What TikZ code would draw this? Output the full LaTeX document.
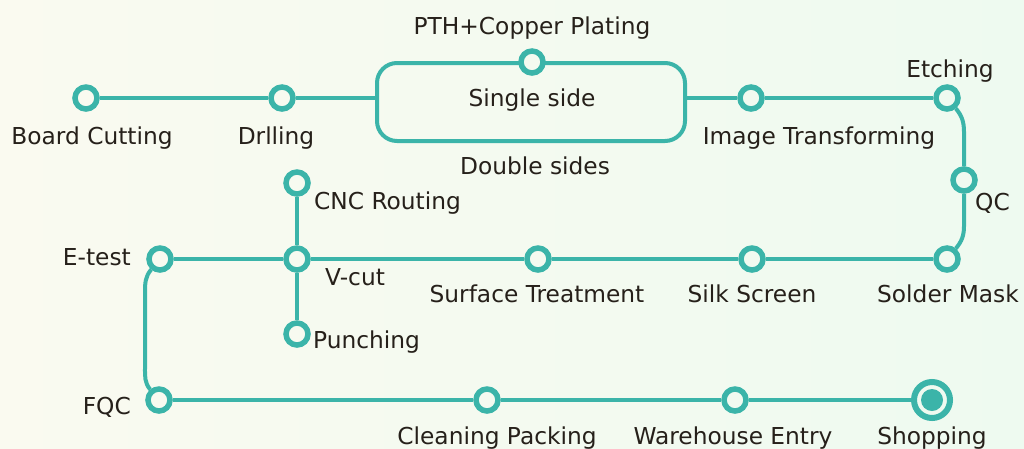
\documentclass[tikz,border=0pt]{standalone}
\usepackage{fontspec}
\setmainfont{DejaVu Sans}
\definecolor{lineteal}{RGB}{59,180,169}
\definecolor{labeltext}{RGB}{38,32,26}
\definecolor{bgleft}{RGB}{250,250,240}
\definecolor{bgright}{RGB}{238,250,240}
\colorlet{bgmid}{bgleft!48!bgright}
\tikzset{
	stop/.style={circle, draw=lineteal, line width=5.5pt, minimum size=22pt, inner sep=0pt},
	endstop/.style={circle, draw=lineteal, line width=6pt, minimum size=36pt, inner sep=0pt},
	sidebox/.style={rectangle, draw=lineteal, line width=4pt, rounded corners=20pt, minimum width=308pt, minimum height=78pt, inner sep=0pt},
	track/.style={draw=lineteal, line width=4pt},
	lbl/.style={text=labeltext, font=\fontsize{23.3}{28}\selectfont, inner sep=0pt, anchor=base}
}
\begin{document}
\begin{tikzpicture}[x=1pt, y=1pt]
		\useasboundingbox (0,0) rectangle (1024,-448);
		\shade [left color=bgleft, right color=bgright] (0,0) rectangle (1024,-448);
		
		% first row
		\node [stop] (board) at (86,-98) {};
		\node [stop] (drill) at (282,-98) {};
		\node [sidebox] (sides) at (531,-102) {};
		\node [stop, fill=bgmid] (pth) at (532,-62) {};
		\node [stop] (image) at (751,-98) {};
		\node [stop] (etch) at (947,-98) {};
		\node [stop] (qc) at (964,-180) {};
		
		% second row
		\node [stop] (solder) at (947,-259) {};
		\node [stop] (silk) at (752,-259) {};
		\node [stop] (surface) at (538,-259) {};
		\node [stop] (vcut) at (297,-259) {};
		\node [stop] (cnc) at (297,-183) {};
		\node [stop] (punch) at (297,-334) {};
		\node [stop] (etest) at (160,-259) {};
		
		% third row
		\node [stop] (fqc) at (159,-400) {};
		\node [stop] (clean) at (487,-400) {};
		\node [stop] (ware) at (735,-400) {};
		\node [endstop] (shop) at (932,-400) {};
		\fill [lineteal] (shop.center) circle (11pt);
		
		\coordinate (qctop) at (964,-132);
		\coordinate (qcbot) at (964,-226);
		\coordinate (ltop) at (145,-292);
		\coordinate (lbot) at (145,-368);
		
		\draw [track] (board) -- (drill);
		\draw [track] (drill) -- (drill -| sides.west);
		\draw [track] (sides.east |- image) -- (image);
		\draw [track] (image) -- (etch);
		\draw [track] (etch.-50) to [out=-50, in=90] (qctop) -- (qc);
		\draw [track] (qc) -- (qcbot) to [out=-90, in=50] (solder.50);
		\draw [track] (solder) -- (silk);
		\draw [track] (silk) -- (surface);
		\draw [track] (surface) -- (vcut);
		\draw [track] (vcut) -- (etest);
		\draw [track] (cnc) -- (vcut);
		\draw [track] (vcut) -- (punch);
		\draw [track] (etest.-130) to [out=-130, in=90] (ltop) -- (lbot) to [out=-90, in=130] (fqc.130);
		\draw [track] (fqc) -- (clean);
		\draw [track] (clean) -- (ware);
		\draw [track] (ware) -- (shop);
		
		% labels
		\node [lbl] (boardlbl) at (92,-144) {Board Cutting};
		\node [lbl] (drilllbl) at (276,-144) {Drlling};
		\node [lbl] (pthlbl) at (532,-34) {PTH+Copper Plating};
		\node [lbl] (singlelbl) at (532,-106) {Single side};
		\node [lbl] (doublelbl) at (535,-174) {Double sides};
		\node [lbl] (imagelbl) at (819,-144) {Image Transforming};
		\node [lbl] (etchlbl) at (950,-77) {Etching};
		\node [lbl, anchor=base west] (qclbl) at (975,-210) {QC};
		\node [lbl, anchor=base west] (cnclbl) at (314,-209) {CNC Routing};
		\node [lbl, anchor=base east] (etestlbl) at (131,-265) {E-test};
		\node [lbl, anchor=base west] (vcutlbl) at (325,-285) {V-cut};
		\node [lbl] (surfacelbl) at (537,-302) {Surface Treatment};
		\node [lbl] (silklbl) at (752,-302) {Silk Screen};
		\node [lbl] (solderlbl) at (948,-302) {Solder Mask};
		\node [lbl, anchor=base west] (punchlbl) at (313,-348) {Punching};
		\node [lbl, anchor=base east] (fqclbl) at (131,-414) {FQC};
		\node [lbl] (cleanlbl) at (497,-444) {Cleaning Packing};
		\node [lbl] (warelbl) at (733,-444) {Warehouse Entry};
		\node [lbl] (shoplbl) at (932,-444) {Shopping};
	\end{tikzpicture}
\end{document}
